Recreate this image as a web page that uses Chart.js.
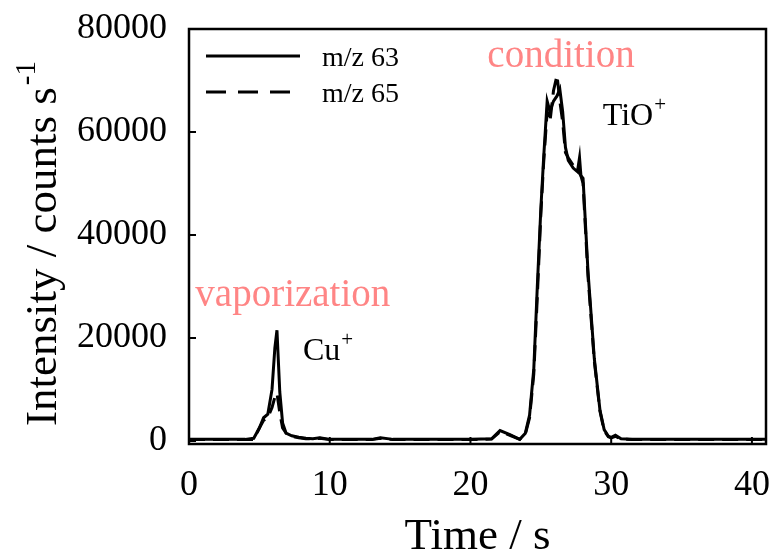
<!DOCTYPE html>
<html>
<head>
<meta charset="utf-8">
<script src="https://cdn.jsdelivr.net/npm/chart.js@4"></script>
<style>
  html, body { margin: 0; padding: 0; background: #fff; }
  #wrap { width: 774px; height: 554px; }
</style>
</head>
<body>
<div id="wrap"><canvas id="tofChart" width="774" height="554"></canvas></div>
<script>
// time axis (s) shared by both isotopes
const time = [0, 2, 4, 4.6, 5.0, 5.3, 5.6, 5.9, 6.1, 6.25, 6.45, 6.65, 6.9, 7.3, 7.8, 8.3, 8.8, 9.3,
  10, 11, 12, 13, 13.6, 14.5, 16, 18, 20, 21.5, 22.1, 22.8, 23.5, 23.9, 24.2, 24.5, 24.75, 25.0,
  25.2, 25.45, 25.65, 25.9, 26.15, 26.35, 26.55, 26.75, 26.95, 27.3, 27.6, 27.75, 27.85, 28.0,
  28.35, 28.8, 29.2, 29.5, 29.8, 30.0, 30.3, 30.7, 31.5, 33, 35, 37, 39, 41];

// m/z 63 (solid)
const mz63 = [300, 300, 300, 500, 2500, 4500, 5200, 10000, 18000, 21500, 9500, 3500, 1500, 1000, 700, 500, 400, 600,
  300, 300, 300, 300, 600, 300, 300, 300, 300, 400, 2000, 1200, 300, 1500, 5000, 14000, 30000, 45000,
  55000, 66000, 64000, 66000, 67000, 68300, 64000, 57000, 54500, 53000, 52300, 55000, 51500, 51000,
  33000, 16000, 6000, 2200, 900, 700, 1100, 400, 300, 300, 300, 300, 300, 300];

// m/z 65 (dashed)
const mz65 = [250, 250, 250, 300, 2500, 4000, 4500, 6500, 8500, 9300, 5500, 2500, 1500, 900, 600, 400, 400, 500,
  250, 250, 250, 250, 500, 250, 250, 250, 250, 350, 1800, 1100, 300, 1300, 4500, 13000, 28000, 44000,
  54000, 64000, 62000, 68000, 71000, 66000, 62000, 56000, 55000, 53500, 52500, 52000, 51500, 50000,
  32000, 15500, 5800, 2000, 800, 600, 900, 350, 250, 250, 250, 250, 250, 250];

const xTicks = [0, 10, 20, 30, 40];
const yTicks = [0, 20000, 40000, 60000, 80000];
const seriesNames = ['m/z 63', 'm/z 65'];

const serif = '"Liberation Serif", "DejaVu Serif", serif';
const pink = '#ff8585';

function toPoints(ys) {
  return time.map((t, i) => ({ x: t, y: ys[i] }));
}

function noPad(s) {
  s.paddingTop = 0; s.paddingBottom = 0; s.paddingLeft = 0; s.paddingRight = 0;
}

// frame, inward ticks, legend and labels
const decorations = {
  id: 'decorations',
  afterDraw(chart) {
    const ctx = chart.ctx;
    const a = chart.chartArea;
    const xs = chart.scales.x, ys = chart.scales.y;
    ctx.save();
    ctx.strokeStyle = '#000';
    ctx.lineWidth = 2.5;
    ctx.strokeRect(a.left, a.top, a.right - a.left, a.bottom - a.top);

    ctx.lineWidth = 2;
    ctx.beginPath();
    xTicks.forEach(v => {
      const px = xs.getPixelForValue(v);
      ctx.moveTo(px, a.bottom);
      ctx.lineTo(px, a.bottom - 7);
    });
    yTicks.forEach(v => {
      const py = ys.getPixelForValue(v);
      ctx.moveTo(a.left, py);
      ctx.lineTo(a.left + 7, py);
    });
    ctx.stroke();

    // legend
    ctx.fillStyle = '#000';
    ctx.font = '28px ' + serif;
    ctx.textBaseline = 'alphabetic';
    ctx.textAlign = 'left';
    ctx.lineWidth = 3;
    ctx.beginPath();
    ctx.moveTo(206, 56);
    ctx.lineTo(300, 56);
    ctx.stroke();
    ctx.setLineDash([20, 12]);
    ctx.beginPath();
    ctx.moveTo(206, 92);
    ctx.lineTo(300, 92);
    ctx.stroke();
    ctx.setLineDash([]);
    ctx.fillText(seriesNames[0], 322, 66);
    ctx.fillText(seriesNames[1], 322, 102);

    // peak labels
    ctx.fillStyle = pink;
    ctx.font = '39px ' + serif;
    ctx.fillText('vaporization', xs.getPixelForValue(0.45), 306);
    ctx.fillText('condition', xs.getPixelForValue(21.2), 67);

    ctx.fillStyle = '#000';
    ctx.font = '32px ' + serif;
    let cx = xs.getPixelForValue(8.1);
    ctx.fillText('Cu', cx, 360);
    let w = ctx.measureText('Cu').width;
    ctx.font = '21px ' + serif;
    ctx.fillText('+', cx + w + 1, 346);

    ctx.font = '32px ' + serif;
    cx = xs.getPixelForValue(29.4);
    ctx.fillText('TiO', cx, 125);
    w = ctx.measureText('TiO').width;
    ctx.font = '21px ' + serif;
    ctx.fillText('+', cx + w + 1, 111);

    // axis titles
    ctx.font = '45px ' + serif;
    ctx.textAlign = 'center';
    ctx.fillText('Time / s', (a.left + a.right) / 2, 549);

    ctx.translate(56, 426);
    ctx.rotate(-Math.PI / 2);
    ctx.textAlign = 'left';
    const main = 'Intensity / counts s';
    ctx.fillText(main, 0, 0);
    w = ctx.measureText(main).width;
    ctx.font = '29px ' + serif;
    ctx.fillText('-1', w + 2, -21);
    ctx.restore();
  }
};

const ctx = document.getElementById('tofChart').getContext('2d');
new Chart(ctx, {
  type: 'line',
  data: {
    datasets: [
      {
        label: seriesNames[0],
        data: toPoints(mz63),
        borderColor: '#000',
        borderWidth: 3,
        pointRadius: 0,
        tension: 0,
        fill: false
      },
      {
        label: seriesNames[1],
        data: toPoints(mz65),
        borderColor: '#000',
        borderWidth: 3,
        borderDash: [16, 8],
        pointRadius: 0,
        tension: 0,
        fill: false
      }
    ]
  },
  options: {
    responsive: false,
    animation: false,
    events: [],
    layout: { padding: { top: 29, right: 8, left: 0, bottom: 0 } },
    plugins: { legend: { display: false }, tooltip: { enabled: false } },
    scales: {
      x: {
        type: 'linear',
        min: 0,
        max: 41,
        grid: { display: false, drawTicks: false },
        border: { display: false },
        ticks: { padding: 20, maxRotation: 0, color: '#000', font: { family: serif, size: 36 } },
        afterBuildTicks: s => { s.ticks = xTicks.map(v => ({ value: v })); },
        afterFit: s => { s.height = 110; noPad(s); }
      },
      y: {
        min: -600,
        max: 80000,
        grid: { display: false, drawTicks: false },
        border: { display: false },
        ticks: { padding: 22, color: '#000', font: { family: serif, size: 36 }, callback: v => String(v) },
        afterBuildTicks: s => { s.ticks = yTicks.map(v => ({ value: v })); },
        afterFit: s => { s.width = 189; noPad(s); }
      }
    }
  },
  plugins: [decorations]
});
</script>
</body>
</html>
